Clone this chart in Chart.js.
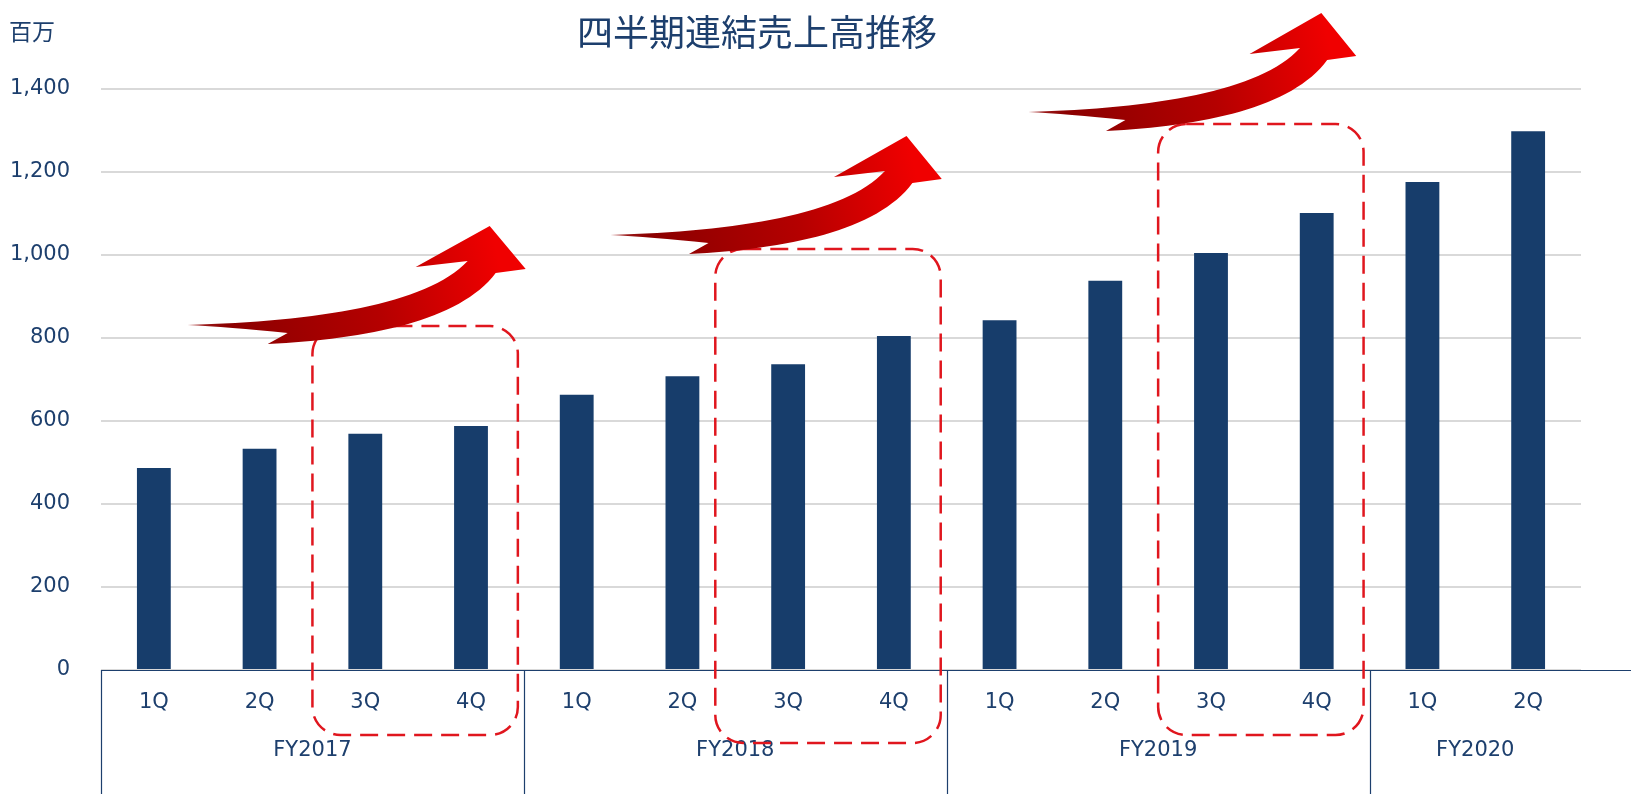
<!DOCTYPE html>
<html>
<head>
<meta charset="utf-8">
<script src="https://cdn.jsdelivr.net/npm/chart.js@4.4.1/dist/chart.umd.min.js"></script>
<style>
  html, body { margin: 0; padding: 0; background: #fff; }
  #wrap { width: 1631px; height: 794px; }
</style>
</head>
<body>
<div id="wrap"><canvas id="myChart" width="1631" height="794"></canvas></div>
<script>
// quarterly consolidated sales (millions of yen)
const quarters = ['1Q', '2Q', '3Q', '4Q', '1Q', '2Q', '3Q', '4Q', '1Q', '2Q', '3Q', '4Q', '1Q', '2Q'];
const fiscalYears = ['FY2017', 'FY2018', 'FY2019', 'FY2020'];
const sales = [487, 533, 569, 588, 663, 708, 737, 805, 843, 938, 1005, 1101, 1176, 1298];
const yTicks = [0, 200, 400, 600, 800, 1000, 1200, 1400];

const chartTitle = '四半期連結売上高推移';
const unitLabel = '百万';

const navy = '#173d6b';
const textColor = '#1d3f6d';
const red = '#e0161e';
const fontJP = '"Noto Sans CJK JP", "Noto Sans", sans-serif';
const fontNum = '"DejaVu Sans", Verdana, sans-serif';

function drawArrow(ctx, x0, y0, s) {
    ctx.save();
    ctx.translate(x0, y0);
    ctx.scale(s, 1);
    let grad = ctx.createLinearGradient(0, 0, 310, -70);
    grad.addColorStop(0, '#a52a2a');
    grad.addColorStop(0.12, '#8a0000');
    grad.addColorStop(0.6, '#b50000');
    grad.addColorStop(1, '#f00000');
    ctx.fillStyle = grad;
    ctx.beginPath();
    ctx.moveTo(0, 0);
    ctx.bezierCurveTo(130, -4, 238, -20, 280, -64);
    ctx.lineTo(228, -58);
    ctx.lineTo(302, -99);
    ctx.lineTo(338, -56);
    ctx.lineTo(308, -52);
    ctx.bezierCurveTo(272, -4, 180, 14, 80, 19);
    ctx.lineTo(100, 8);
    ctx.quadraticCurveTo(40, 2, 0, 0);
    ctx.closePath();
    ctx.fill();
    ctx.restore();
}

function dashedBox(ctx, l, t, r, b, rad) {
    ctx.save();
    ctx.strokeStyle = red;
    ctx.lineWidth = 2.5;
    ctx.setLineDash([18, 9]);
    ctx.beginPath();
    ctx.moveTo(l + rad, t);
    ctx.lineTo(r - rad, t);
    ctx.arcTo(r, t, r, t + rad, rad);
    ctx.lineTo(r, b - rad);
    ctx.arcTo(r, b, r - rad, b, rad);
    ctx.lineTo(l + rad, b);
    ctx.arcTo(l, b, l, b - rad, rad);
    ctx.lineTo(l, t + rad);
    ctx.arcTo(l, t, l + rad, t, rad);
    ctx.closePath();
    ctx.stroke();
    ctx.restore();
}

const decorations = {
    id: 'decorations',
    afterDatasetsDraw(chart) {
        const ctx = chart.ctx;
        const xs = chart.scales.x;
        const ys = chart.scales.y;
        const area = chart.chartArea;
        const cat = xs.getPixelForValue(1) - xs.getPixelForValue(0);

        // x axis frame
        ctx.save();
        ctx.strokeStyle = textColor;
        ctx.lineWidth = 1.2;
        ctx.beginPath();
        ctx.moveTo(area.left, area.bottom + 0.5);
        ctx.lineTo(chart.width, area.bottom + 0.5);
        for (let k = 0; k < fiscalYears.length; k++) {
            let bx = Math.round(xs.getPixelForValue(4 * k) - cat / 2) + 0.5;
            ctx.moveTo(bx, area.bottom);
            ctx.lineTo(bx, chart.height);
        }
        ctx.stroke();

        // fiscal year labels
        ctx.fillStyle = textColor;
        ctx.font = '21px ' + fontNum;
        ctx.textAlign = 'center';
        ctx.textBaseline = 'middle';
        fiscalYears.forEach((fy, k) => {
            let first = 4 * k;
            let last = Math.min(4 * k + 3, quarters.length - 1);
            let cx = (xs.getPixelForValue(first) + xs.getPixelForValue(last)) / 2;
            ctx.fillText(fy, cx, area.bottom + 81);
        });
        ctx.restore();

        // dashed boxes round 3Q-4Q
        const topGap = [100, 87, 89];
        const leftAdj = [0, -20, 0];
        const bottomGap = [65, 73, 65];
        for (let k = 0; k < 3; k++) {
            let l = (xs.getPixelForValue(4 * k + 1) + xs.getPixelForValue(4 * k + 2)) / 2 + leftAdj[k];
            let r = (xs.getPixelForValue(4 * k + 3) + xs.getPixelForValue(4 * k + 4)) / 2 - 6;
            let t = ys.getPixelForValue(sales[4 * k + 3]) - topGap[k];
            let b = area.bottom + bottomGap[k];
            dashedBox(ctx, l, t, r, b, 28);
        }

        // growth arrows
        const arrowScale = [1, 0.98, 0.97];
        for (let k = 0; k < 3; k++) {
            let ax = xs.getPixelForValue(4 * k) + 0.32 * cat - (k == 2 ? 5 : 0);
            let ay = ys.getPixelForValue(sales[4 * k + 3]) - 101;
            drawArrow(ctx, ax, ay, arrowScale[k]);
        }
    },
    afterDraw(chart) {
        const ctx = chart.ctx;
        ctx.save();
        ctx.fillStyle = textColor;
        ctx.textBaseline = 'middle';
        ctx.textAlign = 'center';
        ctx.font = '36px ' + fontJP;
        ctx.fillText(chartTitle, 757, 32);
        ctx.textAlign = 'left';
        ctx.font = '23px ' + fontJP;
        ctx.fillText(unitLabel, 9, 31);
        ctx.restore();
    }
};

const ctx = document.getElementById('myChart');
new Chart(ctx, {
    type: 'bar',
    data: {
        labels: quarters,
        datasets: [{
            label: '売上高',
            data: sales,
            backgroundColor: navy,
            borderWidth: 0,
            barPercentage: 0.32,
            categoryPercentage: 1.0
        }]
    },
    options: {
        responsive: false,
        animation: false,
        devicePixelRatio: 1,
        layout: { padding: { top: 89, left: 0, right: 50, bottom: 0 } },
        plugins: {
            legend: { display: false },
            title: { display: false },
            tooltip: { enabled: false }
        },
        scales: {
            x: {
                grid: { display: false, drawTicks: false },
                border: { display: false },
                ticks: {
                    color: textColor,
                    font: { family: fontNum, size: 21 },
                    padding: 20,
                    maxRotation: 0,
                    autoSkip: false
                },
                afterFit: (scale) => { scale.height = 124; }
            },
            y: {
                min: 0,
                max: 1400,
                afterBuildTicks: (scale) => { scale.ticks = yTicks.map(v => ({ value: v })); },
                grid: { color: '#d9d9d9', lineWidth: 2, drawTicks: false },
                border: { display: false },
                ticks: {
                    color: textColor,
                    font: { family: fontNum, size: 21 },
                    padding: 31,
                    callback: (v) => v.toLocaleString('en-US')
                },
                afterFit: (scale) => { scale.width = 101; }
            }
        }
    },
    plugins: [decorations]
});
</script>
</body>
</html>
